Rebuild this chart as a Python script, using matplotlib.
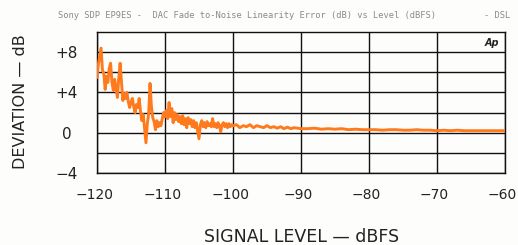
import matplotlib.pyplot as plt
from matplotlib.transforms import ScaledTranslation

level_db = [
    -120.0, -119.8, -119.6, -119.4, -119.2, -119.0, -118.8, -118.6, -118.4, -118.2,
    -118.0, -117.8, -117.6, -117.4, -117.2, -117.0, -116.8, -116.6, -116.4, -116.2,
    -116.0, -115.8, -115.6, -115.4, -115.2, -115.0, -114.8, -114.6, -114.4, -114.2,
    -114.0, -113.8, -113.6, -113.4, -113.2, -113.0, -112.8, -112.6, -112.4, -112.2,
    -112.0, -111.8, -111.6, -111.4, -111.2, -111.0, -110.8, -110.6, -110.4, -110.2,
    -110.0, -109.8, -109.6, -109.4, -109.2, -109.0, -108.8, -108.6, -108.4, -108.2,
    -108.0, -107.8, -107.6, -107.4, -107.2, -107.0, -106.8, -106.6, -106.4, -106.2,
    -106.0, -105.8, -105.6, -105.4, -105.2, -105.0, -104.8, -104.6, -104.4, -104.2,
    -104.0, -103.8, -103.6, -103.4, -103.2, -103.0, -102.8, -102.6, -102.4, -102.2,
    -102.0, -101.8, -101.6, -101.4, -101.2, -101.0, -100.8, -100.6, -100.4, -100.2,
    -100.0, -99.5, -99.0, -98.5, -98.0, -97.5, -97.0, -96.5, -96.0, -95.5,
    -95.0, -94.5, -94.0, -93.5, -93.0, -92.5, -92.0, -91.5, -91.0, -90.5,
    -90.0, -89.0, -88.0, -87.0, -86.0, -85.0, -84.0, -83.0, -82.0, -81.0,
    -80.0, -79.0, -78.0, -77.0, -76.0, -75.0, -74.0, -73.0, -72.0, -71.0,
    -70.0, -69.0, -68.0, -67.0, -66.0, -65.0, -64.0, -63.0, -62.0, -61.0,
    -60.0,
]
deviation_db = [
    5.5, 6.8, 7.6, 8.4, 6.2, 5.9, 4.3, 5.6, 5.0, 6.4,
    6.9, 5.0, 4.2, 5.3, 4.4, 3.5, 5.4, 6.9, 5.1, 3.2,
    3.9, 3.4, 4.0, 3.1, 2.5, 3.0, 3.4, 2.6, 2.0, 2.8,
    2.5, 3.4, 2.1, 1.2, 1.8, 0.4, -1.0, 0.9, 1.9, 4.9,
    2.6, 1.5, 1.1, 0.3, 1.2, 0.6, 1.0, 0.7, 1.4, 2.0,
    1.6, 2.2, 1.4, 3.0, 1.6, 2.4, 1.0, 2.0, 1.3, 1.8,
    1.1, 1.6, 0.9, 1.7, 0.8, 1.4, 0.5, 1.5, 0.9, 1.3,
    0.6, 1.2, 0.5, 1.0, 0.2, -0.6, 0.8, 1.2, 0.6, 1.0,
    0.5, 1.1, 0.7, 0.9, 0.6, 1.4, 0.6, 0.9, 0.5, 1.0,
    0.7, 0.1, 0.8, 1.0, 0.6, 0.9, 0.5, 0.9, 0.6, 0.8,
    0.7, 0.8, 0.5, 0.7, 0.6, 0.8, 0.5, 0.7, 0.6, 0.5,
    0.7, 0.5, 0.6, 0.45, 0.6, 0.4, 0.55, 0.4, 0.5, 0.45,
    0.4, 0.4, 0.45, 0.35, 0.4, 0.35, 0.4, 0.3, 0.35, 0.3,
    0.3, 0.3, 0.25, 0.3, 0.3, 0.25, 0.25, 0.3, 0.25, 0.25,
    0.2, 0.25, 0.2, 0.25, 0.2, 0.2, 0.2, 0.2, 0.2, 0.2,
    0.2,
]

x_ticks = [-120, -110, -100, -90, -80, -70, -60]
x_tick_labels = ["\u2212120", "\u2212110", "\u2212100", "\u221290", "\u221280", "\u221270", "\u221260"]
y_ticks = [-4, 0, 4, 8]
y_tick_labels = ["\u22124", "0", "+4", "+8"]
y_grid = [-2, 2, 6]

bg = "#fdfdfb"
fig = plt.figure(figsize=(5.18, 2.45), dpi=100, facecolor=bg)
ax = fig.add_axes([97 / 518, 1 - 173 / 245, 408 / 518, 141 / 245])
ax.set_facecolor(bg)

for x in x_ticks:
    ax.axvline(x, color="#111111", lw=1.0, zorder=1)
for y in y_ticks + y_grid:
    ax.axhline(y, color="#111111", lw=1.0, zorder=1)

ax.plot(level_db, deviation_db, color="#ff7a1c", lw=2.1, zorder=3,
        solid_joinstyle="round")

ax.set_xlim(-120, -60)
ax.set_ylim(-4, 10)
ax.set_xticks(x_ticks)
ax.set_xticklabels(x_tick_labels)
ax.set_yticks(y_ticks)
ax.set_yticklabels(y_tick_labels, ha="center")
ax.tick_params(length=0, colors="#222222")
ax.tick_params(axis="x", pad=11, labelsize=10)
ax.tick_params(axis="y", pad=22, labelsize=11)
shift = ScaledTranslation(-2.5 / 100, 0, fig.dpi_scale_trans)
for lbl in ax.get_xticklabels():
    lbl.set_transform(lbl.get_transform() + shift)
for s in ax.spines.values():
    s.set_color("#111111")
    s.set_linewidth(1.0)

fig.text(302 / 518, 1 - 237 / 245, "SIGNAL LEVEL \u2014 dBFS", fontsize=12.5,
         color="#222222", ha="center", va="center")
fig.text(21 / 518, 1 - 102 / 245, "DEVIATION \u2014 dB", fontsize=11.5,
         color="#222222", ha="center", va="center", rotation=90)

ax.text(0.985, 0.955, "Ap", transform=ax.transAxes, ha="right", va="top",
        fontsize=7, fontweight="bold", fontstyle="italic", color="#222222")

fig.text(58 / 518, 1 - 15 / 245,
         "Sony SDP EP9ES -  DAC Fade to-Noise Linearity Error (dB) vs Level (dBFS)",
         fontsize=6.3, family="DejaVu Sans Mono", color="#8a8a8a", va="center")
fig.text(484 / 518, 1 - 15 / 245, "- DSL", fontsize=6.3, family="DejaVu Sans Mono",
         color="#8a8a8a", va="center")

fig.savefig("out.png", dpi=100, facecolor=fig.get_facecolor())
